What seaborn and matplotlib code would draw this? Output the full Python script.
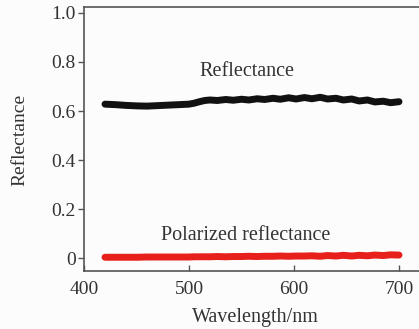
import matplotlib
matplotlib.use("Agg")
import matplotlib.pyplot as plt
import seaborn as sns
import pandas as pd

sns.set_theme(style="white")
plt.rcParams['font.family'] = ['Liberation Serif', 'DejaVu Serif']

wavelength = [420, 430, 440, 450, 460, 470, 480, 490, 500, 505, 510, 515, 520, 527, 535, 542,
              550, 557, 565, 572, 580, 587, 595, 602, 610, 617, 625, 632, 640, 647, 655, 662,
              670, 677, 685, 692, 700]
reflectance = [0.628, 0.626, 0.623, 0.621, 0.620, 0.622, 0.624, 0.626, 0.628, 0.632, 0.638, 0.643, 0.645, 0.643, 0.647, 0.644,
               0.648, 0.645, 0.650, 0.647, 0.652, 0.648, 0.654, 0.649, 0.655, 0.650, 0.656, 0.649, 0.652, 0.645, 0.649, 0.641,
               0.645, 0.637, 0.640, 0.634, 0.638]
polarized = [0.004, 0.004, 0.004, 0.004, 0.005, 0.005, 0.005, 0.005, 0.005, 0.006, 0.006, 0.006, 0.006, 0.007, 0.006, 0.007,
             0.007, 0.008, 0.007, 0.008, 0.008, 0.009, 0.008, 0.009, 0.009, 0.010, 0.008, 0.011, 0.009, 0.012, 0.009, 0.012,
             0.010, 0.013, 0.011, 0.014, 0.013]

df = pd.DataFrame({"Wavelength": wavelength, "Reflectance": reflectance, "Polarized": polarized})

fig = plt.figure(figsize=(4.19, 3.29), dpi=100)
fig.patch.set_facecolor('#fcfcfc')
ax = fig.add_axes([84/419, 58/329, 335/419, 264/329])
ax.set_facecolor('#fcfcfc')

sns.lineplot(data=df, x="Wavelength", y="Reflectance", ax=ax, color='#111111', linewidth=5, solid_capstyle='round')
sns.lineplot(data=df, x="Wavelength", y="Polarized", ax=ax, color='#e8201c', linewidth=5, solid_capstyle='round')

ax.set_xlim(400, 400 + 335/1.05)
ax.set_ylim(-0.052, 1.024)
ax.set_xticks([400, 500, 600, 700])
ax.set_yticks([0, 0.2, 0.4, 0.6, 0.8, 1.0])
ax.set_yticklabels(['0', '0.2', '0.4', '0.6', '0.8', '1.0'])

txtc = '#333333'
ax.tick_params(axis='x', direction='in', length=4, width=1, colors='#555555', labelcolor=txtc, labelsize=14, pad=7, bottom=True)
ax.tick_params(axis='y', direction='out', length=4, width=1, colors='#555555', labelcolor=txtc, labelsize=14, pad=2, left=True)

for s in ['left', 'bottom', 'top']:
    ax.spines[s].set_color('#555555')
    ax.spines[s].set_linewidth(1.2)
ax.spines['right'].set_visible(False)

ax.set_xlabel('Wavelength/nm', fontsize=14.5, color=txtc)
ax.xaxis.set_label_coords((255 - 84) / 335, -(308 - 271) / 264)
ax.set_ylabel('Reflectance', fontsize=14, color=txtc)
ax.yaxis.set_label_coords(-(84 - 28) / 335, (271 - 140) / 264)

ax.text(555, 0.76, 'Reflectance', fontsize=14.5, color=txtc, ha='center', va='center')
ax.text(554, 0.092, 'Polarized reflectance', fontsize=14.5, color=txtc, ha='center', va='center')

fig.savefig('out.png', dpi=100, facecolor=fig.get_facecolor())
